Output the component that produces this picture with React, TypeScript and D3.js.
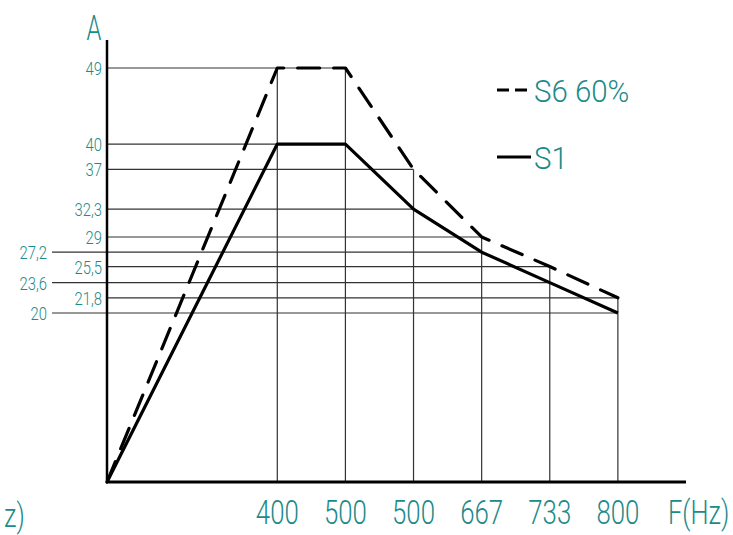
import React from "react";
import * as d3 from "d3";

const categories = ["400", "500", "500", "667", "733", "800"];
const s6Values = [49, 49, 37, 29, 25.5, 21.8];
const s1Values = [40, 40, 32.3, 27.2, 23.6, 20];
const yTickLabels = ["49", "40", "37", "32,3", "29", "27,2", "25,5", "23,6", "21,8", "20"];
const yTickValues = [49, 40, 37, 32.3, 29, 27.2, 25.5, 23.6, 21.8, 20];
const yTickOuter = [false, false, false, false, false, true, false, true, false, true];
// index of category where each gridline ends
const yTickEnd = [1, 1, 2, 2, 3, 3, 4, 4, 5, 5];

const W = 733;
const H = 535;
const TEAL = "#1b8a8a";
const FONT = "Roboto, 'DejaVu Sans', sans-serif";

function CText(props: {
  x: number;
  y: number;
  size: number;
  sx: number;
  anchor?: "start" | "middle" | "end";
  dy?: string;
  children: React.ReactNode;
}) {
  const { x, y, size, sx, anchor = "start", dy, children } = props;
  return (
    <g transform={`translate(${x},${y}) scale(${sx},1)`}>
      <text
        x={0}
        y={0}
        dy={dy}
        textAnchor={anchor}
        fontFamily={FONT}
        fontWeight={300}
        fontSize={size}
        fill={TEAL}
      >
        {children}
      </text>
    </g>
  );
}

export default function App() {
  const x = d3.scaleLinear().domain([0, 8.5]).range([107, 686]);
  const cx = (i: number) => x(i + 2.5);
  const y = d3.scaleLinear().domain([0, 49]).range([482, 68]);

  const lineGen = d3
    .line<[number, number]>()
    .x((d) => d[0])
    .y((d) => d[1]);

  const s6Pts: [number, number][] = [[x(0), y(0)], ...s6Values.map((v, i) => [cx(i), y(v)] as [number, number])];
  const s1Pts: [number, number][] = [[x(0), y(0)], ...s1Values.map((v, i) => [cx(i), y(v)] as [number, number])];

  const maxPerCat = categories.map((_, i) => Math.max(s6Values[i], s1Values[i]));

  return (
    <svg
      width={W}
      height={H}
      style={{ position: "absolute", left: 0, top: 0, background: "#fff" }}
    >
      {/* horizontal gridlines */}
      {yTickValues.map((v, i) => (
        <line
          key={"h" + i}
          x1={yTickOuter[i] ? 52 : x(0)}
          x2={cx(yTickEnd[i])}
          y1={y(v)}
          y2={y(v)}
          stroke="#333"
          strokeWidth={1.2}
        />
      ))}
      {/* vertical gridlines */}
      {categories.map((c, i) => (
        <line
          key={"v" + i}
          x1={cx(i)}
          x2={cx(i)}
          y1={y(0)}
          y2={y(maxPerCat[i])}
          stroke="#333"
          strokeWidth={1.2}
        />
      ))}
      {/* axes */}
      <line x1={x(0)} x2={x(0)} y1={40} y2={y(0) + 1} stroke="#000" strokeWidth={2.5} />
      <line x1={x(0) - 1} x2={x(8.5)} y1={y(0)} y2={y(0)} stroke="#000" strokeWidth={3} />

      {/* series */}
      <path
        d={lineGen(s6Pts) || ""}
        fill="none"
        stroke="#000"
        strokeWidth={3.2}
        strokeDasharray="22 14"
        strokeLinecap="round"
        strokeLinejoin="round"
      />
      <path
        d={lineGen(s1Pts) || ""}
        fill="none"
        stroke="#000"
        strokeWidth={3.2}
        strokeLinejoin="round"
      />

      {/* y tick labels */}
      {yTickValues.map((v, i) => (
        <CText
          key={"yl" + i}
          x={yTickOuter[i] ? 47 : 102}
          y={y(v)}
          dy="0.38em"
          anchor="end"
          size={18.5}
          sx={0.8}
        >
          {yTickLabels[i]}
        </CText>
      ))}

      {/* x tick labels */}
      {categories.map((c, i) => (
        <CText key={"xl" + i} x={cx(i)} y={524} anchor="middle" size={34} sx={0.76}>
          {c}
        </CText>
      ))}
      <CText x={668} y={524} size={34} sx={0.75}>
        F(Hz)
      </CText>
      <CText x={4} y={527} size={34} sx={0.75}>
        z)
      </CText>
      <CText x={94} y={40} anchor="middle" size={35} sx={0.68}>
        A
      </CText>

      {/* legend */}
      <line x1={497} x2={531} y1={90} y2={90} stroke="#000" strokeWidth={3.2} strokeDasharray="12 6" />
      <CText x={534} y={102} size={32} sx={0.92}>
        S6 60%
      </CText>
      <line x1={497} x2={531} y1={157} y2={157} stroke="#000" strokeWidth={3.2} />
      <CText x={534} y={169} size={32} sx={0.92}>
        S1
      </CText>
    </svg>
  );
}
